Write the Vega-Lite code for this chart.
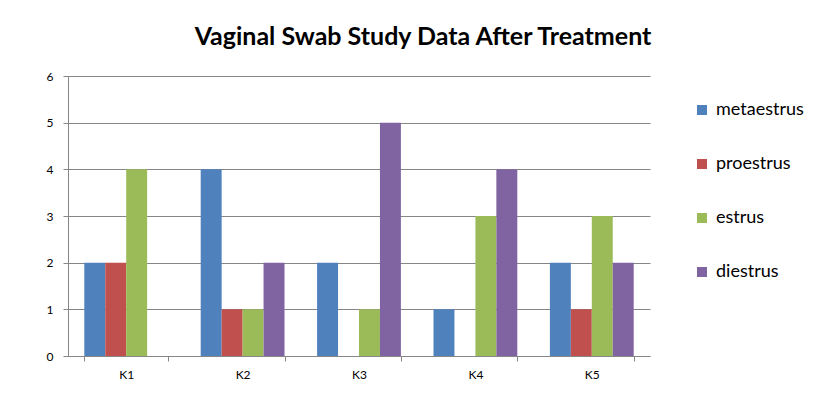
{
  "$schema": "https://vega.github.io/schema/vega-lite/v6.json",
  "width": 582,
  "height": 280,
  "autosize": {"type": "none"},
  "padding": {"left": 68, "top": 76, "right": 174, "bottom": 58},
  "background": "white",
  "title": {
    "text": "Vaginal Swab Study Data After Treatment",
    "font": "Lato",
    "fontSize": 25,
    "fontWeight": "bold",
    "color": "#000000",
    "anchor": "middle",
    "dx": 64,
    "offset": 20
  },
  "data": {
    "values": [
      {"group": "K1", "phase": "metaestrus", "count": 2},
      {"group": "K1", "phase": "proestrus", "count": 2},
      {"group": "K1", "phase": "estrus", "count": 4},
      {"group": "K1", "phase": "diestrus", "count": 0},
      {"group": "K2", "phase": "metaestrus", "count": 4},
      {"group": "K2", "phase": "proestrus", "count": 1},
      {"group": "K2", "phase": "estrus", "count": 1},
      {"group": "K2", "phase": "diestrus", "count": 2},
      {"group": "K3", "phase": "metaestrus", "count": 2},
      {"group": "K3", "phase": "proestrus", "count": 0},
      {"group": "K3", "phase": "estrus", "count": 1},
      {"group": "K3", "phase": "diestrus", "count": 5},
      {"group": "K4", "phase": "metaestrus", "count": 1},
      {"group": "K4", "phase": "proestrus", "count": 0},
      {"group": "K4", "phase": "estrus", "count": 3},
      {"group": "K4", "phase": "diestrus", "count": 4},
      {"group": "K5", "phase": "metaestrus", "count": 2},
      {"group": "K5", "phase": "proestrus", "count": 1},
      {"group": "K5", "phase": "estrus", "count": 3},
      {"group": "K5", "phase": "diestrus", "count": 2}
    ]
  },
  "mark": {"type": "bar"},
  "encoding": {
    "x": {
      "field": "group",
      "type": "nominal",
      "scale": {"paddingInner": 0.28, "paddingOuter": 0.14},
      "axis": {
        "title": null,
        "labelAngle": 0,
        "labelFont": "Lato",
        "labelFontSize": 12,
        "labelColor": "#000000",
        "labelPadding": 8,
        "tickBand": "extent",
        "tickSize": 5,
        "tickColor": "#868686",
        "domainColor": "#868686",
        "grid": false
      }
    },
    "xOffset": {
      "field": "phase",
      "type": "nominal",
      "sort": ["metaestrus", "proestrus", "estrus", "diestrus"],
      "scale": {"paddingInner": 0, "paddingOuter": 0}
    },
    "y": {
      "field": "count",
      "type": "quantitative",
      "scale": {"domain": [0, 6], "nice": false},
      "axis": {
        "title": null,
        "values": [0, 1, 2, 3, 4, 5, 6],
        "labelFont": "Lato",
        "labelFontSize": 12,
        "labelColor": "#000000",
        "labelPadding": 10,
        "tickSize": 5,
        "tickColor": "#868686",
        "domainColor": "#868686",
        "gridColor": "#868686",
        "gridWidth": 1
      }
    },
    "color": {
      "field": "phase",
      "type": "nominal",
      "sort": ["metaestrus", "proestrus", "estrus", "diestrus"],
      "scale": {
        "domain": ["metaestrus", "proestrus", "estrus", "diestrus"],
        "range": ["#4F81BD", "#C0504D", "#9BBB59", "#8064A2"]
      },
      "legend": {
        "title": null,
        "orient": "none",
        "legendX": 625,
        "legendY": 25,
        "symbolType": "square",
        "symbolSize": 100,
        "symbolStrokeWidth": 0,
        "labelFont": "Lato",
        "labelFontSize": 18,
        "labelColor": "#000000",
        "rowPadding": 36,
        "labelOffset": 5
      }
    }
  },
  "config": {
    "view": {"stroke": null},
    "axis": {"domainWidth": 1}
  }
}
